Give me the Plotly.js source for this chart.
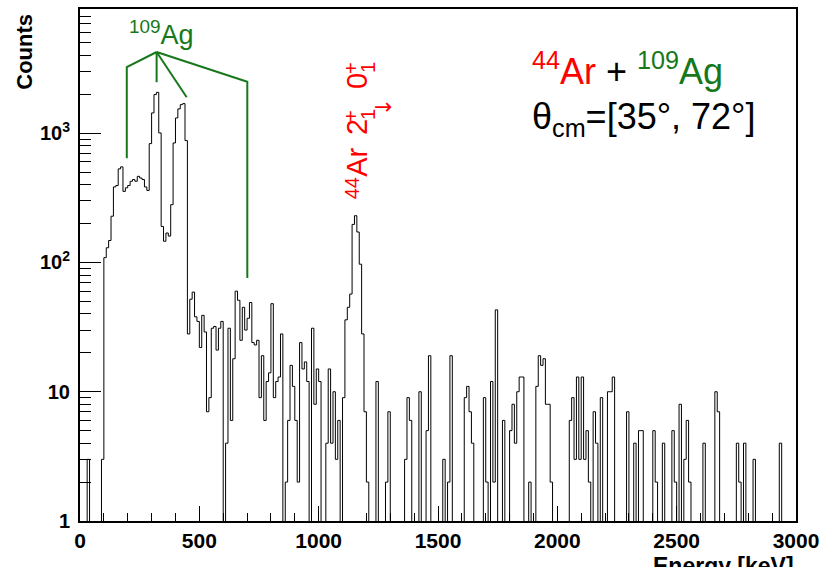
<!DOCTYPE html>
<html>
<head>
<meta charset="utf-8">
<script src="https://cdn.plot.ly/plotly-3.0.1.min.js"></script>
<style>
  html, body { margin: 0; padding: 0; background: #ffffff; }
  #chart { width: 823px; height: 567px; }
</style>
</head>
<body>
<div id="chart"></div>
<script>
// Gamma-ray energy spectrum, 10 keV bins from 0 to 3000 keV
const binWidth = 10;
const counts = [
  0,0,0,3,0,0,0,0,0,3,
  109,130,148,228,384,394,530,549,355,378,
  394,425,438,425,464,450,438,384,361,831,
  1436,1990,2071,1005,190,146,169,160,280,841,
  1312,1542,1664,1694,877,28,52,59,38,35,
  22,39,29,7,9,31,32,21,31,35,
  0,4,31,6,18,60,51,25,45,30,
  37,49,24,23,25,9,19,6,12,14,
  48,9,12,13,28,0,2,6,16,11,
  6,2,24,15,17,12,0,31,8,15,
  12,0,0,4,15,4,10,3,6,0,
  9,36,45,57,197,230,172,97,28,7,
  2,0,0,0,12,0,0,0,2,7,
  0,0,0,0,0,0,3,9,6,0,
  0,0,10,0,0,5,19,0,0,0,
  0,0,3,0,2,19,0,0,0,0,
  0,9,11,7,4,0,0,0,0,9,
  2,0,12,2,43,0,0,6,0,0,
  5,8,4,10,13,13,0,0,2,0,
  0,11,19,16,18,8,8,2,0,0,
  0,0,0,0,0,6,9,3,13,3,
  13,3,5,2,0,7,4,0,9,0,
  0,10,10,13,0,0,0,0,0,7,
  0,0,4,0,5,5,0,0,0,0,
  5,2,0,0,4,0,0,0,5,2,
  0,8,0,3,6,2,0,0,0,0,
  0,4,0,0,0,0,10,7,0,0,
  0,0,0,0,0,4,2,0,4,0,
  0,0,3,0,0,0,0,0,0,0,
  0,0,0,4,0,0,0,0,0,0
];

// 109Ag transitions marked by the label bracket (keV)
const agLineEnergies = [196, 321, 447, 701];
// counts levels of the bracket: top, shoulders, and the lower end of each leg
const agApexCounts = 4250;
const agShoulderCounts = [3250, 2500];
const agLegEndCounts = [640, 2480, 1900, 76];

const yTickVals = [1, 10, 100, 1000];
const yTickText = ['1', '10', '10<sup>2</sup>', '10<sup>3</sup>'];
const xTickVals = [0, 500, 1000, 1500, 2000, 2500, 3000];

// Step outline of the histogram: bin edges with the content of each bin.
// Empty bins drop below the visible range so the outline reaches the axis.
const floorValue = 0.01;
const stepX = [];
const stepY = [];
counts.forEach((c, i) => {
  stepX.push(i * binWidth);
  stepY.push(c > 0 ? c : floorValue);
});
stepX.push(counts.length * binWidth);
stepY.push(counts[counts.length - 1] > 0 ? counts[counts.length - 1] : floorValue);

// y minor ticks: 2..9 in each decade
const yMinor = [];
for (let d = 1; d <= 1000; d *= 10) {
  for (let k = 2; k <= 9; k++) yMinor.push(k * d);
}

const green = '#16781a';
const red = '#ff0000';

const histTrace = {
  x: stepX, y: stepY, type: 'scatter', mode: 'lines',
  line: { shape: 'hv', color: '#000000', width: 1 },
  hoverinfo: 'skip', showlegend: false
};

const apexE = agLineEnergies[1];
const bracketTraces = [
  { // left leg via its shoulder
    x: [apexE, agLineEnergies[0], agLineEnergies[0]],
    y: [agApexCounts, agShoulderCounts[0], agLegEndCounts[0]] },
  { // central leg
    x: [apexE, apexE], y: [agApexCounts, agLegEndCounts[1]] },
  { // slanted leg
    x: [apexE, agLineEnergies[2]], y: [agApexCounts, agLegEndCounts[2]] },
  { // right leg via its shoulder
    x: [apexE, agLineEnergies[3], agLineEnergies[3]],
    y: [agApexCounts, agShoulderCounts[1], agLegEndCounts[3]] }
].map(t => Object.assign(t, {
  type: 'scatter', mode: 'lines', line: { color: green, width: 2 },
  hoverinfo: 'skip', showlegend: false
}));

const fontFamily = 'Liberation Sans, Arial, Helvetica, sans-serif';

// Rotated transition label, built piece by piece so the + and 1
// indices stack above each other as in the usual level notation.
function redText(text, x, y, size, angle, family) {
  return {
    text: text, showarrow: false, textangle: angle,
    xref: 'paper', yref: 'paper', x: x, y: y,
    xanchor: 'center', yanchor: 'middle',
    font: { family: family || fontFamily, size: size, color: red }
  };
}
const transitionLabel = [
  redText('44', 0.3799, 0.6498, 20, -90),
  redText('Ar', 0.3876, 0.7005, 29, -90),
  redText('2', 0.3876, 0.7688, 29, -90),
  redText('+', 0.3792, 0.7902, 20, -90),
  redText('1', 0.4022, 0.7951, 20, -90),
  redText('\u2192', 0.4232, 0.8088, 22, 0, 'DejaVu Sans, sans-serif'),
  redText('0', 0.3876, 0.8585, 29, -90),
  redText('+', 0.3792, 0.8839, 20, -90),
  redText('1', 0.4022, 0.8868, 20, -90)
];

const layout = {
  width: 823, height: 567,
  margin: { l: 80, r: 27, t: 9, b: 46 },
  paper_bgcolor: '#ffffff', plot_bgcolor: '#ffffff',
  showlegend: false,
  xaxis: {
    range: [0, 3000], showgrid: false, zeroline: false,
    showline: true, mirror: true, linecolor: '#000', linewidth: 2,
    ticks: 'inside', ticklen: 15, tickwidth: 1, tickcolor: '#000',
    tickmode: 'array', tickvals: xTickVals,
    minor: { ticks: 'inside', ticklen: 8, tickwidth: 1, tickcolor: '#000', dtick: 100, tick0: 0, showgrid: false },
    tickfont: { family: fontFamily, size: 21, color: '#000', weight: 'bold' },
    fixedrange: true
  },
  yaxis: {
    type: 'log', range: [0, 3.961], showgrid: false, zeroline: false,
    showline: true, mirror: true, linecolor: '#000', linewidth: 2,
    ticks: 'inside', ticklen: 21, tickwidth: 1, tickcolor: '#000',
    tickmode: 'array', tickvals: yTickVals, ticktext: yTickText,
    minor: { ticks: 'inside', ticklen: 11, tickwidth: 1, tickcolor: '#000', tickmode: 'array', tickvals: yMinor, showgrid: false },
    tickfont: { family: fontFamily, size: 20, color: '#000', weight: 'bold' },
    ticklabelstandoff: 4,
    fixedrange: true
  },
  annotations: [
    { // y axis title, aligned to the top of the axis
      text: 'Counts', textangle: -90, showarrow: false,
      xref: 'paper', yref: 'paper', x: -0.078, y: 0.995,
      xanchor: 'center', yanchor: 'top',
      font: { family: fontFamily, size: 22, color: '#000', weight: 'bold' }
    },
    { // x axis title, aligned to the right end of the axis
      text: 'Energy [keV]', showarrow: false,
      xref: 'paper', yref: 'paper', x: 1.0, y: -0.058,
      xanchor: 'right', yanchor: 'top',
      font: { family: fontFamily, size: 23, color: '#000', weight: 'bold' }
    },
    {
      text: '<sup>109</sup>Ag', showarrow: false,
      xref: 'paper', yref: 'paper', x: 0.1145, y: 0.953,
      xanchor: 'center', yanchor: 'middle',
      font: { family: fontFamily, size: 27, color: green }
    },
    {
      text: '<span style="color:' + red + '"><sup>44</sup>Ar</span> + <span style="color:' + green + '"><sup>109</sup>Ag</span>',
      showarrow: false, xref: 'paper', yref: 'paper', x: 0.6285, y: 0.883,
      xanchor: 'left', yanchor: 'middle', align: 'left',
      font: { family: fontFamily, size: 36, color: '#000' }
    },
    {
      text: '\u03b8<sub>cm</sub>=[35\u00b0, 72\u00b0]',
      showarrow: false, xref: 'paper', yref: 'paper', x: 0.6285, y: 0.785,
      xanchor: 'left', yanchor: 'middle', align: 'left',
      font: { family: fontFamily, size: 36, color: '#000' }
    }
  ].concat(transitionLabel)
};

Plotly.newPlot('chart', [histTrace].concat(bracketTraces), layout, { staticPlot: true, displayModeBar: false });
</script>
</body>
</html>
